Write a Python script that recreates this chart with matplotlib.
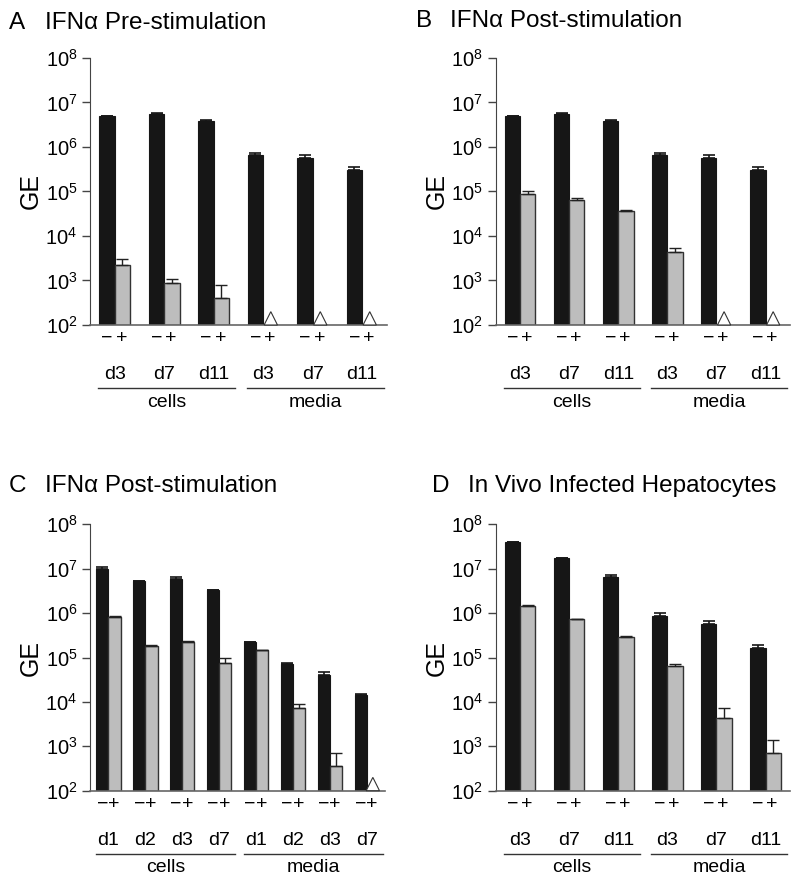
import numpy as np
import matplotlib
matplotlib.use('Agg')
from matplotlib import pyplot as plt
from matplotlib.patches import Polygon
import matplotlib.transforms as mtransforms

plt.rcParams['font.family'] = ['Liberation Sans', 'DejaVu Sans']
plt.rcParams['mathtext.default'] = 'regular'

# ---- data (None = not detected, drawn as open triangle) ----
days_abd = ['d3', 'd7', 'd11', 'd3', 'd7', 'd11']
days_c = ['d1', 'd2', 'd3', 'd7', 'd1', 'd2', 'd3', 'd7']

a_minus = [4.9e6, 5.6e6, 3.8e6, 6.7e5, 5.7e5, 3.1e5]
a_minus_err = [5.0e6, 5.7e6, 4.1e6, 7.3e5, 6.7e5, 3.6e5]
a_plus = [2.2e3, 8.9e2, 4.0e2, None, None, None]
a_plus_err = [3.1e3, 1.1e3, 7.8e2, None, None, None]

b_minus = [4.9e6, 5.6e6, 3.8e6, 6.7e5, 5.7e5, 3.1e5]
b_minus_err = [5.0e6, 5.7e6, 4.1e6, 7.3e5, 6.7e5, 3.6e5]
b_plus = [8.6e4, 6.4e4, 3.7e4, 4.3e3, None, None]
b_plus_err = [1.0e5, 7.0e4, 3.8e4, 5.4e3, None, None]

c_minus = [1.0e7, 5.3e6, 6.0e6, 3.3e6, 2.2e5, 7.3e4, 4.1e4, 1.44e4]
c_minus_err = [1.1e7, 5.4e6, 6.6e6, 3.35e6, 2.25e5, 7.4e4, 4.8e4, 1.47e4]
c_plus = [8.3e5, 1.86e5, 2.2e5, 7.7e4, 1.46e5, 7.2e3, 3.6e2, None]
c_plus_err = [8.5e5, 1.9e5, 2.4e5, 1.0e5, 1.5e5, 8.9e3, 7.2e2, None]

d_minus = [3.9e7, 1.7e7, 6.6e6, 8.7e5, 5.6e5, 1.6e5]
d_minus_err = [4.0e7, 1.72e7, 7.2e6, 1.03e6, 6.7e5, 1.9e5]
d_plus = [1.44e6, 7.3e5, 2.9e5, 6.5e4, 4.3e3, 6.9e2]
d_plus_err = [1.5e6, 7.4e5, 3.1e5, 7.3e4, 7.2e3, 1.4e3]

BASE = 1e2
BLACK = '#161616'
GRAY = '#bdbdbd'
AXC = '#444444'


def draw_panel(rect, letter, title, title_x, days, minus, minus_err, plus, plus_err):
    ax = fig.add_axes(rect)
    n = len(days)
    x = np.arange(n)
    bw = 0.31 if n == 6 else 0.33
    xm = x - bw / 2
    xp = x + bw / 2

    mv = np.array(minus, dtype=float)
    ax.bar(xm, mv - BASE, bottom=BASE, width=bw, color=BLACK, edgecolor=BLACK, lw=0.8, zorder=2)
    ax.errorbar(xm, mv, yerr=[np.zeros(n), np.array(minus_err) - mv],
                fmt='none', ecolor=BLACK, elinewidth=1.2, capsize=4, capthick=1.2, zorder=3)

    trans = mtransforms.blended_transform_factory(ax.transData, ax.transAxes)
    tri_half = 0.135 * n / 6
    for i in range(n):
        if plus[i] is None:
            tri = Polygon([(xp[i] - tri_half, 0.0), (xp[i] + tri_half, 0.0),
                           (xp[i], 0.05)], closed=True, facecolor='white',
                          edgecolor='#333333', lw=0.8, transform=trans, zorder=3,
                          clip_on=False)
            ax.add_patch(tri)
        else:
            ax.bar(xp[i], plus[i] - BASE, bottom=BASE, width=bw, color=GRAY,
                   edgecolor='#333333', lw=1.0, zorder=2)
            ax.errorbar(xp[i], plus[i], yerr=[[0], [plus_err[i] - plus[i]]],
                        fmt='none', ecolor='#222222', elinewidth=1.0, capsize=4,
                        capthick=1.0, zorder=3)

    ax.set_yscale('log')
    ax.set_ylim(BASE, 1e8)
    ax.set_xlim(-0.5, n - 0.5)
    ax.set_yticks([10.0 ** k for k in range(2, 9)])
    ax.set_yticklabels(['$10^{%d}$' % k for k in range(2, 9)])
    ax.minorticks_off()
    ax.set_xticks([])
    ax.tick_params(axis='y', direction='out', length=6, width=1, color=AXC,
                   labelsize=14.5, pad=3)
    for s in ['top', 'right']:
        ax.spines[s].set_visible(False)
    ax.spines['left'].set_color(AXC)
    ax.spines['bottom'].set_color('#666666')
    ax.spines['bottom'].set_linewidth(1.2)
    ax.set_ylabel('GE', fontsize=18, labelpad=2)

    for i in range(n):
        ax.text(xm[i], -0.05, '\u2212', transform=trans, ha='center', va='center', fontsize=14)
        ax.text(xp[i] - 0.02, -0.05, '+', transform=trans, ha='center', va='center', fontsize=14)
        ax.text(x[i], -0.187, days[i], transform=trans, ha='center', va='center', fontsize=14)

    half = n // 2
    for g, lab in [(0, 'cells'), (1, 'media')]:
        lo = x[g * half] - 0.33
        hi = x[g * half + half - 1] + 0.44
        ax.plot([lo, hi], [-0.236, -0.236], color='#333333', lw=1.0,
                transform=trans, clip_on=False)
        ax.text((lo + hi) / 2, -0.289, lab, transform=trans, ha='center',
                va='center', fontsize=14)

    fig.text(title_x[0] / 800, 1 - title_y[letter] / 882, letter, fontsize=17.5,
             ha='left', va='center')
    fig.text(title_x[1] / 800, 1 - title_y[letter] / 882, title, fontsize=17.5,
             ha='left', va='center')
    return ax


fig = plt.figure(figsize=(8, 8.82), dpi=100)
title_y = {'A': 23, 'B': 21, 'C': 486, 'D': 486}

draw_panel([0.1125, 1 - 325 / 882, 0.371, 267 / 882], 'A', 'IFN\u03b1 Pre-stimulation',
           (9, 45), days_abd, a_minus, a_minus_err, a_plus, a_plus_err)
draw_panel([0.6196, 1 - 325 / 882, 0.368, 267 / 882], 'B', 'IFN\u03b1 Post-stimulation',
           (416, 450), days_abd, b_minus, b_minus_err, b_plus, b_plus_err)
draw_panel([0.1125, 1 - 790.7 / 882, 0.369, 266.4 / 882], 'C', 'IFN\u03b1 Post-stimulation',
           (9, 45), days_c, c_minus, c_minus_err, c_plus, c_plus_err)
draw_panel([0.6196, 1 - 790.7 / 882, 0.368, 266.4 / 882], 'D', 'In Vivo Infected Hepatocytes',
           (432, 468), days_abd, d_minus, d_minus_err, d_plus, d_plus_err)

fig.savefig('out.png', dpi=100)
